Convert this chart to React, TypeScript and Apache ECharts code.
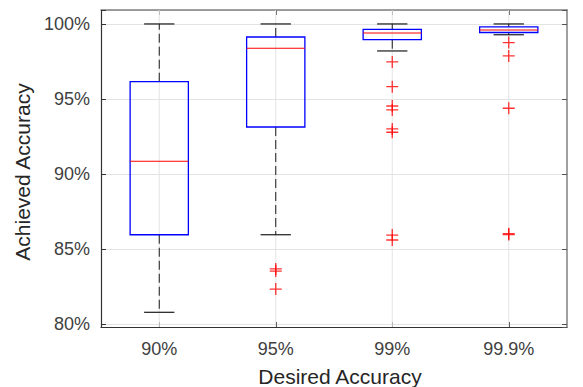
import React, { useEffect, useRef } from "react";
import * as echarts from "echarts";

const categories = ["90%", "95%", "99%", "99.9%"];
const whiskerLow = [80.78, 85.95, 98.2, 99.28];
const quartile1 = [85.95, 93.13, 98.95, 99.43];
const medians = [90.85, 98.38, 99.4, 99.6];
const quartile3 = [96.15, 99.13, 99.64, 99.8];
const whiskerHigh = [100, 100, 100, 100];

const outliers90: number[] = [];
const outliers95 = [83.67, 83.53, 82.33];
const outliers99 = [97.47, 95.82, 94.53, 94.27, 93.0, 92.78, 85.93, 85.6];
const outliers999 = [98.76, 97.87, 94.38, 86.02, 85.96];

const yTicks = [80, 85, 90, 95, 100];

const FONT = "'Liberation Sans', Arial, Helvetica, sans-serif";

export default function App() {
  const ref = useRef<HTMLDivElement>(null);

  useEffect(() => {
    if (!ref.current) return;
    const chart = echarts.init(ref.current, undefined, { renderer: "svg" });

    const boxData = categories.map((_, i) => [
      i,
      whiskerLow[i],
      quartile1[i],
      medians[i],
      quartile3[i],
      whiskerHigh[i],
    ]);

    const outlierGroups = [outliers90, outliers95, outliers99, outliers999];
    const outlierData: number[][] = [];
    outlierGroups.forEach((g, i) => g.forEach((v) => outlierData.push([i, v])));

    const renderItem = (params: any, api: any) => {
      const idx = api.value(0);
      const lo = api.coord([idx, api.value(1)]);
      const q1 = api.coord([idx, api.value(2)]);
      const med = api.coord([idx, api.value(3)]);
      const q3 = api.coord([idx, api.value(4)]);
      const hi = api.coord([idx, api.value(5)]);
      const band = api.size([1, 0])[0];
      const bw = band * 0.5;
      const cw = bw * 0.52;
      const cx = med[0];
      const cs = params.coordSys;
      const whiskerStyle = { stroke: "#1a1a1a", lineWidth: 1, lineDash: [9, 4] };
      const capStyle = { stroke: "#1a1a1a", lineWidth: 1.2 };
      return {
        type: "group",
        children: [
          {
            type: "line",
            shape: { x1: cx, y1: cs.y, x2: cx, y2: cs.y + cs.height },
            style: { stroke: "#e3e3e3", lineWidth: 1 },
          },
          {
            type: "line",
            shape: { x1: cx, y1: q3[1], x2: cx, y2: hi[1] },
            style: whiskerStyle,
          },
          {
            type: "line",
            shape: { x1: cx, y1: q1[1], x2: cx, y2: lo[1] },
            style: whiskerStyle,
          },
          {
            type: "line",
            shape: { x1: cx - cw / 2, y1: hi[1], x2: cx + cw / 2, y2: hi[1] },
            style: capStyle,
          },
          {
            type: "line",
            shape: { x1: cx - cw / 2, y1: lo[1], x2: cx + cw / 2, y2: lo[1] },
            style: capStyle,
          },
          {
            type: "rect",
            shape: { x: cx - bw / 2, y: q3[1], width: bw, height: q1[1] - q3[1] },
            style: { fill: "none", stroke: "#0000ff", lineWidth: 1.3 },
          },
          {
            type: "line",
            shape: { x1: cx - bw / 2, y1: med[1], x2: cx + bw / 2, y2: med[1] },
            style: { stroke: "#ff0000", lineWidth: 1.1 },
          },
        ],
      };
    };

    const labelFmt = (v: number) =>
      yTicks.some((t) => Math.abs(t - v) < 1e-6) ? `${Math.round(v)}%` : "";

    chart.setOption({
      animation: false,
      backgroundColor: "#ffffff",
      grid: { left: 101, right: 16, top: 10, bottom: 60, containLabel: false },
      xAxis: [
        {
          type: "category",
          data: categories,
          position: "bottom",
          boundaryGap: true,
          axisLine: { show: true, lineStyle: { color: "#333333", width: 1.2 } },
          axisTick: {
            show: true,
            inside: true,
            alignWithLabel: true,
            length: 5,
            lineStyle: { color: "#333333" },
          },
          axisLabel: {
            fontSize: 18,
            color: "#404040",
            margin: 13,
            fontFamily: FONT,
          },
          splitLine: { show: false },
        },
        {
          type: "category",
          data: categories,
          position: "top",
          boundaryGap: true,
          axisLine: { show: true, lineStyle: { color: "#808080", width: 1.5 } },
          axisTick: {
            show: true,
            inside: true,
            alignWithLabel: true,
            length: 5,
            lineStyle: { color: "#555555" },
          },
          axisLabel: { show: false },
          splitLine: { show: false },
        },
      ],
      yAxis: [
        {
          type: "value",
          min: 79.8,
          max: 100.93,
          position: "left",
          axisLine: { show: true, lineStyle: { color: "#333333", width: 1.2 } },
          axisTick: {
            show: true,
            inside: true,
            length: 5,
            lineStyle: { color: "#333333" },
          },
          axisLabel: {
            fontSize: 18,
            color: "#404040",
            margin: 11,
            fontFamily: FONT,
            formatter: labelFmt,
          },
          splitLine: { show: true, lineStyle: { color: "#e3e3e3", width: 1 } },
        },
        {
          type: "value",
          min: 79.8,
          max: 100.93,
          position: "right",
          axisLine: { show: true, lineStyle: { color: "#808080", width: 1.5 } },
          axisTick: {
            show: true,
            inside: true,
            length: 5,
            lineStyle: { color: "#555555" },
          },
          axisLabel: { show: false },
          splitLine: { show: false },
        },
      ],
      graphic: [
        {
          type: "text",
          x: 22,
          y: 172,
          rotation: Math.PI / 2,
          style: {
            text: "Achieved Accuracy",
            font: `21px ${FONT}`,
            fill: "#262626",
            textAlign: "center",
            textVerticalAlign: "middle",
          },
        },
        {
          type: "text",
          x: 340,
          y: 376,
          style: {
            text: "Desired Accuracy",
            font: `21px ${FONT}`,
            fill: "#262626",
            textAlign: "center",
            textVerticalAlign: "middle",
          },
        },
      ],
      series: [
        {
          type: "custom",
          renderItem,
          data: boxData,
          encode: { x: 0, y: [1, 2, 3, 4, 5] },
          xAxisIndex: 0,
          yAxisIndex: 0,
          z: 2,
        },
        {
          type: "scatter",
          data: outlierData,
          xAxisIndex: 0,
          yAxisIndex: 0,
          symbol: "path://M0,6H12M6,0V12",
          symbolSize: 12,
          itemStyle: { color: "none", borderColor: "#ff0000", borderWidth: 1.3 },
          z: 3,
        },
      ],
    });

    return () => chart.dispose();
  }, []);

  return <div ref={ref} style={{ width: 583, height: 387, position: "absolute", left: 0, top: 0 }} />;
}
